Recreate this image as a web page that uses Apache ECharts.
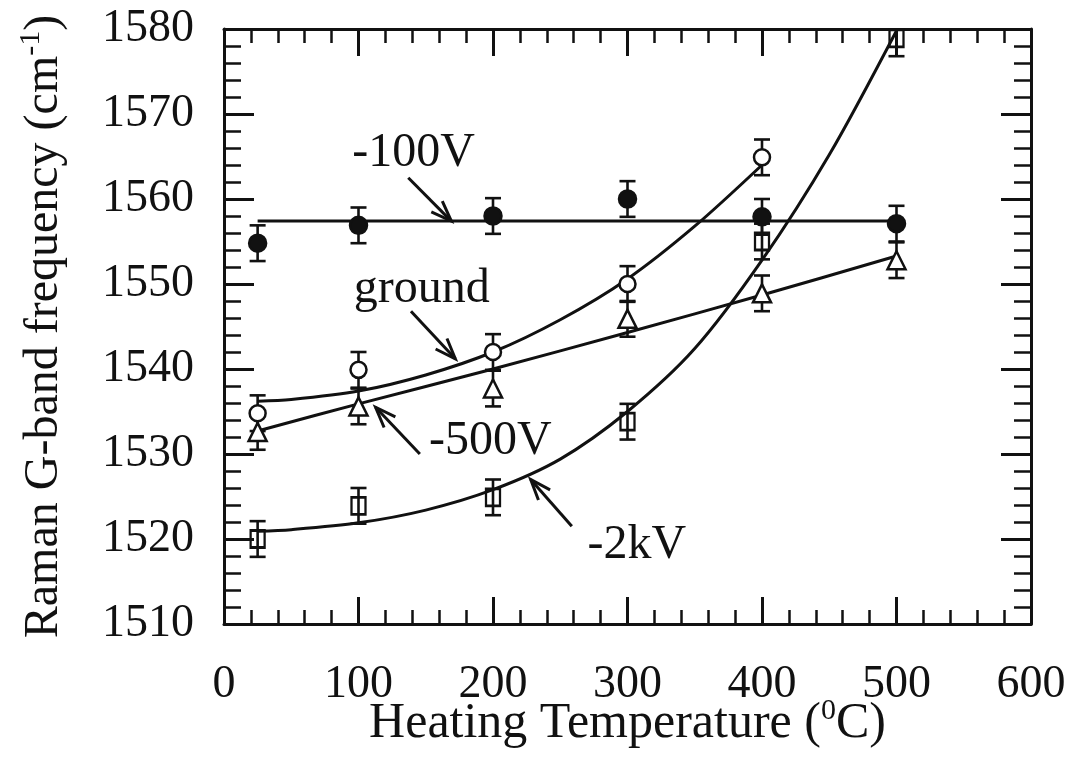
<!DOCTYPE html>
<html>
<head>
<meta charset="UTF-8">
<title>Raman G-band frequency</title>
<style>
  html, body { margin: 0; padding: 0; background: #fff; }
  #main { width: 1077px; height: 760px; }
</style>
</head>
<body>
<div id="main"></div>
<script src="https://cdn.jsdelivr.net/npm/echarts@6/dist/echarts.min.js"></script>
<script>
// heating temperatures of the samples
var temps = [25, 100, 200, 300, 400, 500];
var tempsGround = [25, 100, 200, 300, 400];

// measured G-band positions
var v100 = [1554.8, 1556.9, 1558.0, 1560.0, 1557.9, 1557.1];
var vGround = [1534.8, 1539.9, 1542.0, 1550.0, 1564.9];
var v500 = [1532.6, 1535.6, 1537.7, 1545.9, 1548.9, 1552.8];
var v2k = [1520.0, 1523.9, 1524.9, 1533.8, 1555.0, 1578.9];
var errBar = 2.1;

// guide curves
var fit100X = [25, 500];
var fit100Y = [1557.4, 1557.4];
var fitGroundX = [25, 50, 100, 150, 200, 250, 300, 350, 400];
var fitGroundY = [1536.2, 1536.4, 1537.4, 1539.3, 1542.0, 1545.8, 1550.6, 1556.8, 1564.0];
var fit500X = [25, 100, 200, 300, 400, 500];
var fit500Y = [1532.7, 1535.9, 1540.0, 1544.3, 1548.7, 1553.3];
var fit2kX = [25, 50, 100, 150, 200, 250, 300, 350, 400, 450, 500];
var fit2kY = [1520.9, 1521.1, 1521.9, 1523.4, 1525.8, 1529.4, 1535.0, 1542.4, 1552.8, 1565.2, 1579.8];

// curve labels and arrows (data coordinates)
var annoText = ['-100V', 'ground', '-500V', '-2kV'];
var annoX = [141, 147, 198, 307];
var annoY = [1565.4, 1549.4, 1531.5, 1519.2];
var arrowFrom = [[137, 1562.5], [139, 1546.8], [145.6, 1530.0], [258.6, 1521.5]];
var arrowTo = [[169, 1557.4], [172, 1541.2], [112.7, 1535.5], [228, 1527.0]];

var FONT = '"Liberation Serif", "Times New Roman", serif';
var INK = '#111';

function pairs(xs, ys) {
  return xs.map(function (x, i) { return [x, ys[i]]; });
}
function withErr(xs, ys) {
  return xs.map(function (x, i) { return [x, ys[i], errBar]; });
}

function renderErr(params, api) {
  var x = api.value(0), y = api.value(1), e = api.value(2);
  var top = api.coord([x, y + e]);
  var bot = api.coord([x, y - e]);
  var w = 8;
  var st = { stroke: INK, lineWidth: 2.6 };
  return {
    type: 'group',
    children: [
      { type: 'line', shape: { x1: top[0], y1: top[1], x2: bot[0], y2: bot[1] }, style: st },
      { type: 'line', shape: { x1: top[0] - w, y1: top[1], x2: top[0] + w, y2: top[1] }, style: st },
      { type: 'line', shape: { x1: bot[0] - w, y1: bot[1], x2: bot[0] + w, y2: bot[1] }, style: st }
    ]
  };
}

function renderArrow(params, api) {
  var i = params.dataIndex;
  var p0 = api.coord(arrowFrom[i]);
  var p1 = api.coord(arrowTo[i]);
  var ang = Math.atan2(p1[1] - p0[1], p1[0] - p0[0]);
  var len = 22, spread = 0.36;
  var h1 = [p1[0] - len * Math.cos(ang - spread), p1[1] - len * Math.sin(ang - spread)];
  var h2 = [p1[0] - len * Math.cos(ang + spread), p1[1] - len * Math.sin(ang + spread)];
  var st = { stroke: INK, lineWidth: 3, fill: null };
  return {
    type: 'group',
    children: [
      { type: 'line', shape: { x1: p0[0], y1: p0[1], x2: p1[0], y2: p1[1] }, style: st },
      { type: 'polyline', shape: { points: [h1, p1, h2] }, style: st }
    ]
  };
}

function renderLabel(params, api) {
  var p = api.coord([api.value(0), api.value(1)]);
  return {
    type: 'text',
    x: p[0], y: p[1],
    style: {
      text: annoText[params.dataIndex],
      font: '48px ' + FONT,
      fill: INK,
      align: 'center',
      verticalAlign: 'middle'
    }
  };
}

function curve(xs, ys) {
  return {
    type: 'line', data: pairs(xs, ys), smooth: 0.3, showSymbol: false,
    lineStyle: { color: INK, width: 3 }, z: 3, silent: true
  };
}

function marks(xs, ys, symbol, size, fill) {
  return {
    type: 'scatter', data: pairs(xs, ys), symbol: symbol, symbolSize: size,
    itemStyle: { color: fill, borderColor: INK, borderWidth: 2.5, opacity: 1 }, z: 5, silent: true
  };
}

function errs(xs, ys) {
  return { type: 'custom', data: withErr(xs, ys), renderItem: renderErr, clip: true, z: 4, silent: true };
}

function plain(v) { return String(v); }

var tickLine = { color: INK, width: 3 };
function xAx(pos, show) {
  return {
    type: 'value', position: pos, min: 0, max: 600, interval: 100,
    axisLine: { show: true, onZero: false, lineStyle: tickLine },
    axisTick: { show: true, inside: true, length: 27, lineStyle: tickLine },
    minorTick: { show: true, splitNumber: 5, length: 14, lineStyle: { color: INK, width: 2.5 } },
    splitLine: { show: false },
    axisLabel: { show: show, margin: 38, color: INK, fontFamily: FONT, fontSize: 46, formatter: plain }
  };
}
function yAx(pos, show) {
  return {
    type: 'value', position: pos, min: 1510, max: 1580, interval: 10,
    axisLine: { show: true, onZero: false, lineStyle: tickLine },
    axisTick: { show: true, inside: true, length: 30, lineStyle: tickLine },
    minorTick: { show: true, splitNumber: 5, length: 17, lineStyle: { color: INK, width: 2.5 } },
    splitLine: { show: false },
    axisLabel: { show: show, margin: 30, color: INK, fontFamily: FONT, fontSize: 46, formatter: plain }
  };
}

var xMain = xAx('bottom', true);
xMain.name = 'Heating Temperature ({sup|0}C)';
xMain.nameLocation = 'middle';
xMain.nameGap = 72;
xMain.nameMoveOverlap = false;
xMain.nameTextStyle = {
  color: INK, fontFamily: FONT, fontSize: 50, lineHeight: 56,
  rich: { sup: { fontFamily: FONT, fontSize: 30, lineHeight: 34, verticalAlign: 'top', color: INK } }
};
var yMain = yAx('left', true);
yMain.name = 'Raman G-band frequency (cm{sup|-1})';
yMain.nameLocation = 'middle';
yMain.nameGap = 152;
yMain.nameTextStyle = {
  color: INK, fontFamily: FONT, fontSize: 48, lineHeight: 56,
  rich: { sup: { fontFamily: FONT, fontSize: 30, lineHeight: 34, verticalAlign: 'top', color: INK } }
};

var chart = echarts.init(document.getElementById('main'), null, { renderer: 'canvas' });
chart.setOption({
  backgroundColor: '#fff',
  animation: false,
  grid: { left: 224, right: 46, top: 29, bottom: 136, containLabel: false, outerBoundsMode: 'none' },
  xAxis: [xMain, xAx('top', false)],
  yAxis: [yMain, yAx('right', false)],
  series: [
    curve(fit100X, fit100Y),
    curve(fitGroundX, fitGroundY),
    curve(fit500X, fit500Y),
    curve(fit2kX, fit2kY),
    errs(temps, v100),
    errs(tempsGround, vGround),
    errs(temps, v500),
    errs(temps, v2k),
    marks(temps, v100, 'circle', 17, INK),
    marks(tempsGround, vGround, 'circle', 16, '#fff'),
    marks(temps, v500, 'triangle', 18, '#fff'),
    marks(temps, v2k, 'rect', [14, 17], 'rgba(0,0,0,0)'),
    { type: 'custom', data: arrowFrom, renderItem: renderArrow, z: 6, silent: true },
    { type: 'custom', data: pairs(annoX, annoY), renderItem: renderLabel, z: 6, silent: true }
  ]
});
</script>
</body>
</html>
